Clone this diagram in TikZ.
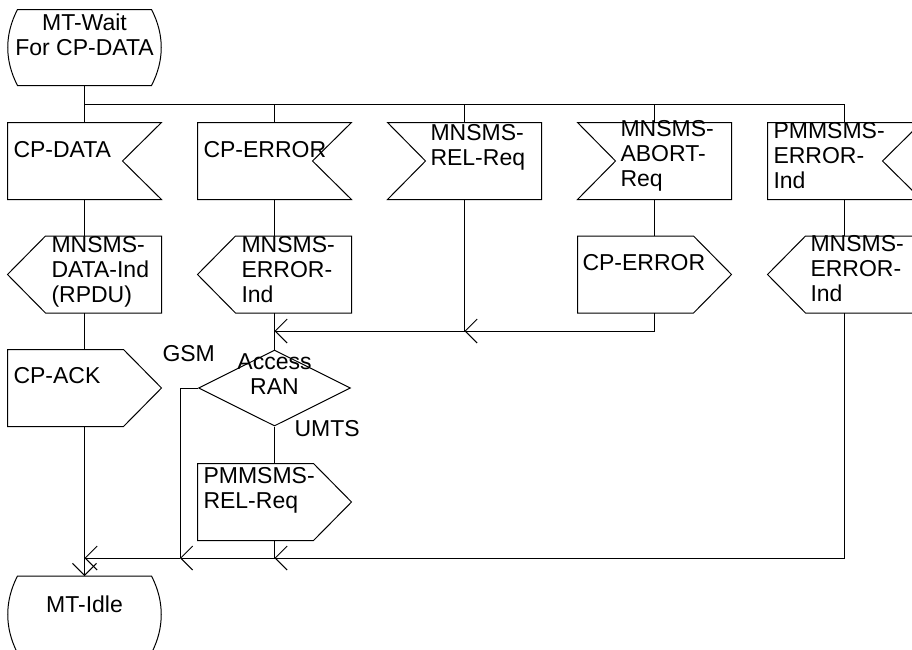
\documentclass[tikz,border=0pt]{standalone}
\usepackage{fontspec}
\setmainfont{Liberation Sans}
\usepackage{tikz}
\usetikzlibrary{positioning,arrows.meta,shapes.geometric,calc}
\newcommand{\sdlfont}{\fontsize{23}{25}\selectfont}
\tikzset{
  sdl-box/.style={rectangle,minimum width=153pt,minimum height=76pt,
    inner sep=0pt,draw=none},
  sdl-ran/.style={diamond,draw,minimum width=152pt,minimum height=76pt,
    inner sep=0pt},
  sdl-text/.style={anchor=north west,inner sep=0pt,align=left},
  sdl-ctext/.style={anchor=north,inner sep=0pt,align=center},
  flow/.style={-{Straight Barb[length=12pt,width=24pt]}},
}
% outlines of the SDL symbols, built on the anchors of a named box
\newcommand{\sdlInRight}[1]{\draw (#1.north west) -- (#1.north east)
  -- ([xshift=-39pt]#1.east) -- (#1.south east) -- (#1.south west) -- cycle;}
\newcommand{\sdlInLeft}[1]{\draw (#1.north west) -- (#1.north east)
  -- (#1.south east) -- (#1.south west) -- ([xshift=38pt]#1.west) -- cycle;}
\newcommand{\sdlOutRight}[1]{\draw (#1.north west) -- ([xshift=-38pt]#1.north east)
  -- (#1.east) -- ([xshift=-38pt]#1.south east) -- (#1.south west) -- cycle;}
\newcommand{\sdlOutLeft}[1]{\draw (#1.west) -- ([xshift=38pt]#1.north west)
  -- (#1.north east) -- (#1.south east) -- ([xshift=38pt]#1.south west) -- cycle;}
\newcommand{\sdlState}[1]{\draw ([xshift=10pt]#1.north west)
  -- ([xshift=-10pt]#1.north east)
  .. controls ([xshift=3pt,yshift=-25pt]#1.north east)
  and ([xshift=3pt,yshift=25pt]#1.south east)
  .. ([xshift=-10pt]#1.south east) -- ([xshift=10pt]#1.south west)
  .. controls ([xshift=-3pt,yshift=25pt]#1.south west)
  and ([xshift=-3pt,yshift=-25pt]#1.north west) .. cycle;}

\begin{document}
\begin{tikzpicture}[x=1pt,y=-1pt,line width=1pt,font=\sdlfont]
  \useasboundingbox (0,0) rectangle (912,649);
  \clip (0,0) rectangle (912,649);

  % states
  \node[sdl-box,minimum height=75pt] (wait) at (84.5,47.5) {};
  \node[sdl-box] (idle) at (84.5,614.5) {};
  \sdlState{wait}
  \sdlState{idle}
  \node[sdl-ctext] (wait-t) at (84.5,13) {MT-Wait\\For CP-DATA};
  \node[sdl-ctext] (idle-t) at (84.5,595) {MT-Idle};

  % inputs
  \node[sdl-box] (cpdata)  at (84.5,161) {};
  \node[sdl-box] (cperror) at (274.5,161) {};
  \node[sdl-box] (relreq)  at (464.5,161) {};
  \node[sdl-box] (abort)   at (654.5,161) {};
  \node[sdl-box] (pmerr)   at (844.5,161) {};
  \sdlInRight{cpdata}
  \sdlInRight{cperror}
  \sdlInLeft{relreq}
  \sdlInLeft{abort}
  \sdlInRight{pmerr}
  \node[sdl-text] (cpdata-t)  at (13,141)  {CP-DATA};
  \node[sdl-text] (cperror-t) at (203,141) {CP-ERROR};
  \node[sdl-text] (relreq-t)  at (430,124) {MNSMS-\\REL-Req};
  \node[sdl-text] (abort-t)   at (620,120) {MNSMS-\\ABORT-\\Req};
  \node[sdl-text] (pmerr-t)   at (773,122) {PMMSMS-\\ERROR-\\Ind};

  % outputs
  \node[sdl-box] (dataind) at (84.5,274.5) {};
  \node[sdl-box] (errind)  at (274.5,274.5) {};
  \node[sdl-box] (cperr4)  at (654.5,274.5) {};
  \node[sdl-box] (errind5) at (844.5,274.5) {};
  \node[sdl-box] (cpack)   at (84.5,388) {};
  \node[sdl-box] (relreq2) at (274.5,502) {};
  \sdlOutLeft{dataind}
  \sdlOutLeft{errind}
  \sdlOutRight{cperr4}
  \sdlOutLeft{errind5}
  \sdlOutRight{cpack}
  \sdlOutRight{relreq2}
  \node[sdl-text] (dataind-t) at (51,236)  {MNSMS-\\DATA-Ind\\(RPDU)};
  \node[sdl-text] (errind-t)  at (241,236) {MNSMS-\\ERROR-\\Ind};
  \node[sdl-text] (cperr4-t)  at (582,254) {CP-ERROR};
  \node[sdl-text] (errind5-t) at (810,235) {MNSMS-\\ERROR-\\Ind};
  \node[sdl-text] (cpack-t)   at (13,367)  {CP-ACK};
  \node[sdl-text] (relreq2-t) at (203,467) {PMMSMS-\\REL-Req};

  % decision
  \node[sdl-ran] (ran) at (274.5,388) {};
  \node[sdl-ctext] (ran-t) at (274.5,353) {Access\\RAN};
  \node[sdl-text] (gsm)  at (162,345) {GSM};
  \node[sdl-text] (umts) at (294,420) {UMTS};

  % junctions
  \coordinate (bus) at (84.5,104);
  \coordinate (j1)  at (274.5,331);
  \coordinate (j3)  at (464.5,331);
  \coordinate (jb0) at (84.5,558);
  \coordinate (jb1) at (180,558);
  \coordinate (jb2) at (274.5,558);

  % flow lines
  \draw (wait) -- (cpdata);
  \draw (bus) -| (cperror);
  \draw (bus) -| (relreq);
  \draw (bus) -| (abort);
  \draw (bus) -| (pmerr);
  \draw (cpdata) -- (dataind);
  \draw (dataind) -- (cpack);
  \draw (cpack) -- (jb0);
  \draw[flow] (jb0) -- (idle);
  \draw (cperror) -- (errind);
  \draw (errind) -- (ran);
  \draw (relreq) -- (j3);
  \draw (abort) -- (cperr4);
  \draw[flow] (cperr4) |- (j3);
  \draw[flow] (j3) -- (j1);
  \draw (pmerr) -- (errind5);
  \draw[flow] (errind5) |- (jb2);
  \draw (ran.west) -| (jb1);
  \draw (ran) -- (relreq2);
  \draw (relreq2) -- (jb2);
  \draw[flow] (jb2) -- (jb1);
  \draw[flow] (jb1) -- (jb0);
\end{tikzpicture}
\end{document}
